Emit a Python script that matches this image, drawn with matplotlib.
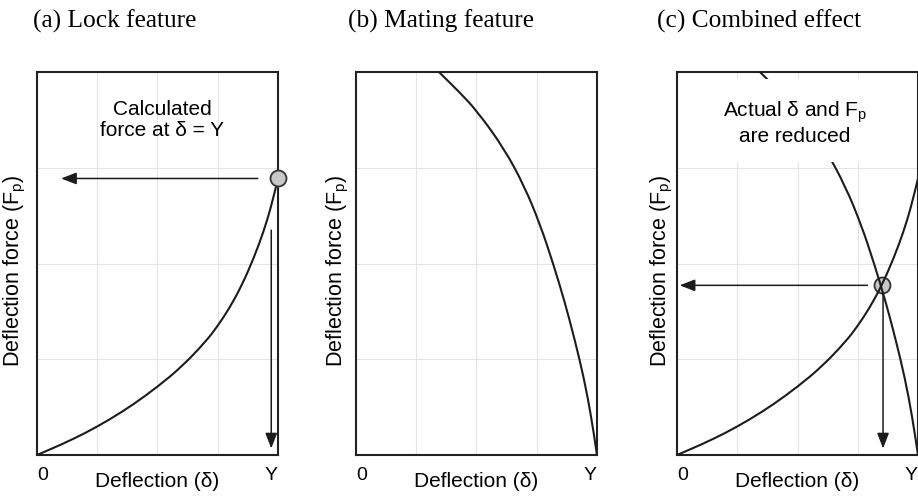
import matplotlib
matplotlib.use("Agg")
import matplotlib.pyplot as plt
from matplotlib.path import Path
from matplotlib.patches import PathPatch

plt.rcParams['mathtext.fontset'] = 'custom'
plt.rcParams['mathtext.rm'] = 'Liberation Sans'
plt.rcParams['mathtext.it'] = 'Liberation Sans:italic'
plt.rcParams['font.family'] = ['Liberation Sans', 'DejaVu Sans']

# ---- data (normalised deflection / force) ----
lock_x = [0, 0.1, 0.2, 0.3, 0.4, 0.5, 0.6, 0.7, 0.75, 0.8, 0.85, 0.9, 0.94, 0.97, 1.0]
lock_y = [0, 0.027, 0.057, 0.092, 0.132, 0.178, 0.230, 0.296, 0.337, 0.385,
          0.443, 0.515, 0.583, 0.645, 0.722]

mate_x = [0.344, 0.425, 0.50, 0.615, 0.70, 0.765, 0.818, 0.866, 0.908, 0.946, 0.976, 1.0]
mate_y = [1.0, 0.95, 0.9, 0.8, 0.7, 0.6, 0.5, 0.4, 0.3, 0.2, 0.1, 0.0]

calc_point = (1.0, 0.722)      # force at delta = Y (lock feature)
actual_point = (0.85, 0.443)   # intersection (combined effect)

grid_pos = [0.25, 0.5, 0.75]
tick_pos = [0, 1]
tick_labels = ["0", "Y"]

titles = ["(a) Lock feature", "(b) Mating feature", "(c) Combined effect"]
xlabel = "Deflection (\u03b4)"
ylabel = "Deflection force (F$_\\mathrm{p}$)"
note_a = "Calculated\nforce at \u03b4 = Y"
note_c = "Actual \u03b4 and F$_\\mathrm{p}$\nare reduced"

W, H = 918, 496
fig = plt.figure(figsize=(W / 100, H / 100), dpi=100)

lefts = [37, 356, 677]
widths = [241, 241, 241]
ylab_off = [-22, -18, -15]
title_x = [33, 348, 657]
ax_bottom, ax_top = 455, 72

LC = '#1c1c1c'
arrow_style = '-|>,head_length=0.62,head_width=0.24'


def smooth_curve(ax, xs, ys, **kw):
    """Draw a smooth curve through the data using quadratic Bezier segments."""
    pts = list(zip(xs, ys))
    verts = [pts[0]]
    codes = [Path.MOVETO]
    mids = [((pts[k][0] + pts[k + 1][0]) / 2, (pts[k][1] + pts[k + 1][1]) / 2)
            for k in range(len(pts) - 1)]
    verts.append(mids[0]); codes.append(Path.LINETO)
    for k in range(1, len(pts) - 1):
        verts += [pts[k], mids[k]]
        codes += [Path.CURVE3, Path.CURVE3]
    verts.append(pts[-1]); codes.append(Path.LINETO)
    patch = PathPatch(Path(verts, codes), fill=False, **kw)
    ax.add_patch(patch)
    return patch


def arrow(ax, tail, tip):
    ax.annotate('', xy=tip, xytext=tail,
                arrowprops=dict(arrowstyle=arrow_style, mutation_scale=15,
                                lw=1.1, color=LC, shrinkA=0, shrinkB=0))


axes = []
for i in range(3):
    l = lefts[i]
    ax = fig.add_axes([l / W, (H - ax_bottom) / H, widths[i] / W,
                       (ax_bottom - ax_top) / H])
    ax.set_xlim(0, 1)
    ax.set_ylim(0, 1)
    for g in grid_pos:
        ax.axvline(g, color='#e4e4e4', lw=0.8, zorder=0)
        ax.axhline(g, color='#e4e4e4', lw=0.8, zorder=0)
    for s in ax.spines.values():
        s.set_linewidth(1.5)
        s.set_color('#222222')
    ax.set_yticks([])
    ax.set_xticks(tick_pos)
    ax.set_xticklabels(tick_labels, fontsize=14)
    ax.tick_params(axis='x', length=0, pad=9)
    lbls = ax.get_xticklabels()
    lbls[0].set_horizontalalignment('left')
    lbls[1].set_horizontalalignment('right')
    ax.text(0.5, -0.0836, xlabel, transform=ax.transAxes, ha='center',
            va='baseline', fontsize=15)
    ax.text(ylab_off[i] / widths[i], 0.48, ylabel, transform=ax.transAxes,
            rotation=90, ha='center', va='center', fontsize=15.5)
    fig.text(title_x[i] / W, (H - 28) / H, titles[i], ha='left',
             va='baseline', fontsize=18.3, family='Liberation Serif')
    axes.append(ax)

# (a) Lock feature
ax = axes[0]
smooth_curve(ax, lock_x, lock_y, ec=LC, lw=1.5, zorder=3)
ax.plot([calc_point[0]], [calc_point[1]], 'o', ms=11.5, mfc='#c8c8c8',
        mec='#333333', mew=1.3, clip_on=False, zorder=4)
arrow(ax, (0.916, calc_point[1]), (0.100, calc_point[1]))
arrow(ax, (0.972, 0.587), (0.972, 0.017))
ax.text(0.52, 0.875, note_a, ha='center', va='center', fontsize=15,
        multialignment='center', linespacing=1.15)

# (b) Mating feature
ax = axes[1]
smooth_curve(ax, mate_x, mate_y, ec=LC, lw=1.5, zorder=3)

# (c) Combined effect
ax = axes[2]
smooth_curve(ax, lock_x, lock_y, ec=LC, lw=1.5, zorder=3)
smooth_curve(ax, mate_x, mate_y, ec=LC, lw=1.5, zorder=3)
ax.plot([actual_point[0]], [actual_point[1]], 'o', ms=11.5, mfc='#c8c8c8',
        mec='#333333', mew=1.3, zorder=2)
arrow(ax, (0.79, actual_point[1]), (0.011, actual_point[1]))
arrow(ax, (0.855, 0.42), (0.855, 0.017))
ax.text(0.49, 0.868, note_c, ha='center', va='center', fontsize=15,
        multialignment='center', linespacing=1.15, zorder=5,
        bbox=dict(boxstyle='square,pad=0.75', fc='white', ec='none'))

fig.savefig('out.png', dpi=100)
